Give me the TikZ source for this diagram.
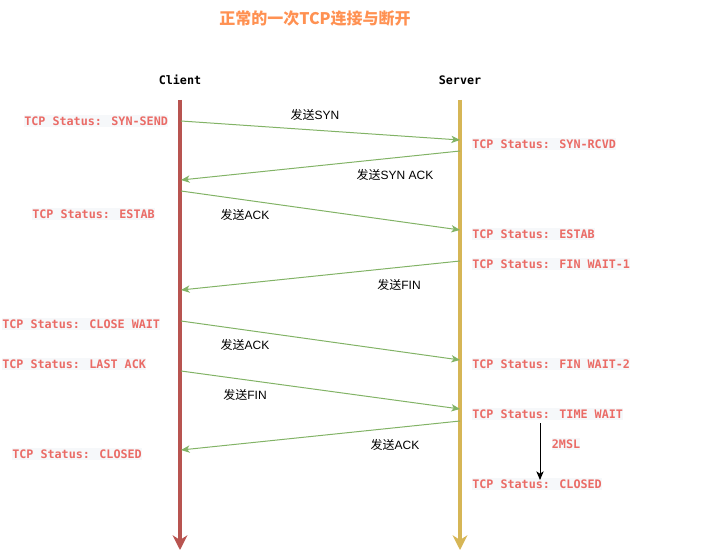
\documentclass[tikz,border=0pt]{standalone}
\usepackage{fontspec}
\setmainfont{Liberation Sans}
\newfontfamily\cjk{Noto Sans CJK SC}
\newfontfamily\monob{DejaVu Sans Mono}[BoldFont={DejaVu Sans Mono Bold}]
\usetikzlibrary{arrows.meta}
\definecolor{statred}{HTML}{EA6B66}
\definecolor{statbg}{HTML}{F6F8FA}
\definecolor{msg}{HTML}{82B366}
\definecolor{cline}{HTML}{B85450}
\definecolor{sline}{HTML}{D6B656}
\definecolor{titleor}{HTML}{FF9152}
\tikzset{
  status/.style={anchor=west, fill=statbg, text=statred, inner xsep=0pt, inner ysep=1.3pt,
    font=\monob\bfseries\fontsize{8.8}{10}\selectfont},
  actor/.style={font=\monob\bfseries\fontsize{8.8}{10}\selectfont, text=black},
  msglabel/.style={font=\fontsize{9}{10}\selectfont, text=black, inner sep=0pt},
  msgarrow/.style={draw=msg, line width=0.75pt, -{Stealth[length=6.5pt,width=5.5pt,inset=1.8pt]}},
  lifeline/.style={line width=2.3pt, -{Stealth[length=11pt,width=11pt,inset=3.5pt]}},
}
\begin{document}
\begin{tikzpicture}[x=0.75pt,y=-0.75pt]
\useasboundingbox (0,0) rectangle (721,560);
% title
\node[font=\cjk\bfseries\fontsize{12}{14}\selectfont, text=titleor] (title) at (315,18) {正常的一次TCP连接与断开};
% actors
\node[actor] (client) at (180,80) {Client};
\node[actor] (server) at (460,80) {Server};
% lifelines
\coordinate (ctop) at (180,100);
\coordinate (cbot) at (180,550);
\coordinate (stop) at (460,100);
\coordinate (sbot) at (460,550);
\draw[lifeline, cline] (ctop) -- (cbot);
\draw[lifeline, sline] (stop) -- (sbot);
% message endpoints
\coordinate (c1) at (181,121); \coordinate (s1) at (460,140);
\coordinate (s2) at (460,151); \coordinate (c2) at (181,180);
\coordinate (c3) at (181,191); \coordinate (s3) at (460,230);
\coordinate (s4) at (460,261); \coordinate (c4) at (181,290);
\coordinate (c5) at (181,321); \coordinate (s5) at (460,360);
\coordinate (c6) at (181,371); \coordinate (s6) at (460,409);
\coordinate (s7) at (460,421); \coordinate (c7) at (181,450);
\draw[msgarrow] (c1) -- (s1);
\draw[msgarrow] (s2) -- (c2);
\draw[msgarrow] (c3) -- (s3);
\draw[msgarrow] (s4) -- (c4);
\draw[msgarrow] (c5) -- (s5);
\draw[msgarrow] (c6) -- (s6);
\draw[msgarrow] (s7) -- (c7);
% message labels
\node[msglabel] (m1) at (315,115) {{\cjk 发送}SYN};
\node[msglabel] (m2) at (395,175) {{\cjk 发送}SYN ACK};
\node[msglabel] (m3) at (245,215) {{\cjk 发送}ACK};
\node[msglabel] (m4) at (399,285) {{\cjk 发送}FIN};
\node[msglabel] (m5) at (245,345) {{\cjk 发送}ACK};
\node[msglabel] (m6) at (245,395) {{\cjk 发送}FIN};
\node[msglabel] (m7) at (395,445) {{\cjk 发送}ACK};
% client statuses
\node[status] (cs1) at (24,121) {TCP Status: SYN-SEND};
\node[status] (cs2) at (32,214) {TCP Status: ESTAB};
\node[status] (cs3) at (2,324) {TCP Status: CLOSE WAIT};
\node[status] (cs4) at (2,364) {TCP Status: LAST ACK};
\node[status] (cs5) at (12,454) {TCP Status: CLOSED};
% server statuses
\node[status] (ss1) at (472,144) {TCP Status: SYN-RCVD};
\node[status] (ss2) at (472,234) {TCP Status: ESTAB};
\node[status] (ss3) at (472,264) {TCP Status: FIN WAIT-1};
\node[status] (ss4) at (472,364) {TCP Status: FIN WAIT-2};
\node[status] (ss5) at (472,414) {TCP Status: TIME WAIT};
\node[status] (ss6) at (472,484) {TCP Status: CLOSED};
% 2MSL
\coordinate (t1) at (540,423);
\coordinate (t2) at (540,480);
\draw[line width=0.75pt, -{Stealth[length=6.5pt,width=5.5pt,inset=1.8pt]}] (t1) -- (t2);
\node[status, anchor=center] (msl) at (566,444) {2MSL};
\end{tikzpicture}
\end{document}
